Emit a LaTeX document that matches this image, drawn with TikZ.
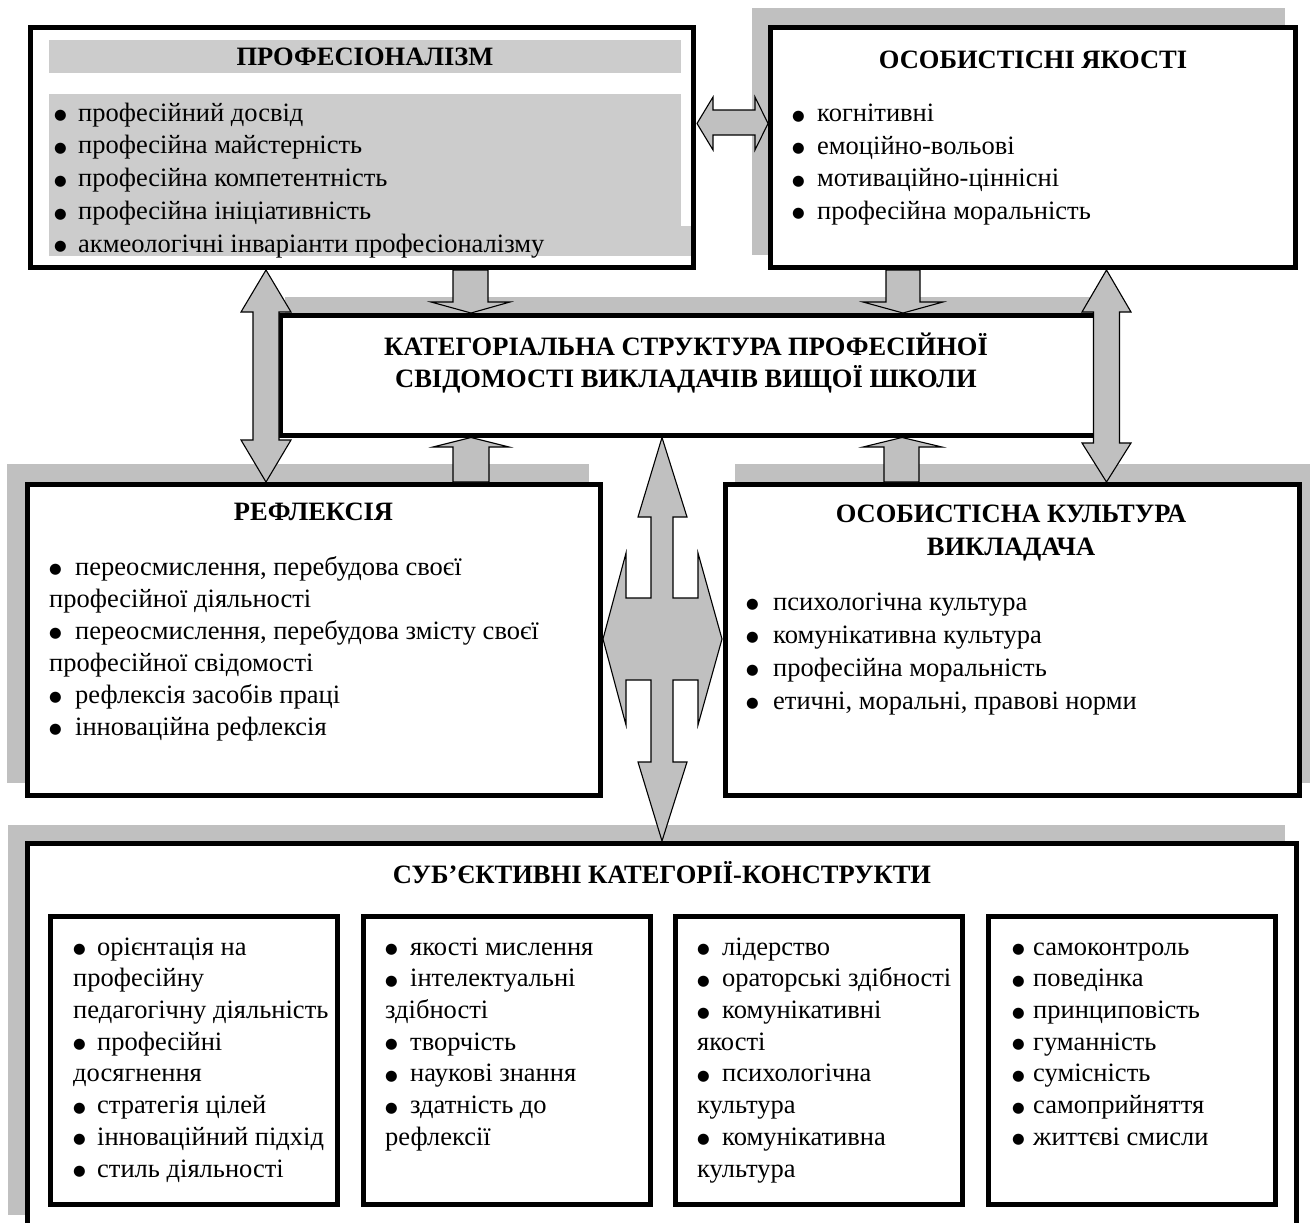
\documentclass[tikz,border=0pt]{standalone}
\usepackage{fontspec}
\setmainfont{Liberation Serif}
\newfontfamily\bulfont{DejaVu Sans}
\definecolor{shadegray}{HTML}{C0C0C0}
\definecolor{innergray}{HTML}{CCCCCC}
\newcommand\bul[1][24pt]{\makebox[#1][l]{\raisebox{1.5pt}{\bulfont\fontsize{14.5}{14.5}\selectfont ●}}}
\begin{document}
\begin{tikzpicture}[x=1pt,y=-1pt,
  frame/.style={draw=black, line width=5pt, fill=white, inner sep=0pt},
  shade/.style={fill=shadegray},
  blk/.style={draw=black, line width=1.1pt, fill=shadegray, line join=miter},
  ttl/.style={font=\fontsize{26.5}{#1}\selectfont\bfseries, inner sep=0pt, align=center, anchor=north},
  lst/.style={font=\fontsize{26.5}{#1}\selectfont, inner sep=0pt, align=left, anchor=north west}]
\useasboundingbox (0,0) rectangle (1310,1223);
\fill[white] (0,0) rectangle (1310,1223);

% shadows
\fill[shade] (752,8) rectangle (1285,255);
\fill[shade] (285,297) rectangle (1112,420);
\fill[shade] (7,464) rectangle (589,783);
\fill[shade] (735,464) rectangle (1310,783);
\fill[shade] (8,825) rectangle (1285,1215);

% main boxes
\node[frame, minimum width=663pt, minimum height=240pt] (prof) at (362,147.5) {};
\node[frame, minimum width=525pt, minimum height=240pt] (osob) at (1033,147.5) {};
\node[frame, minimum width=815pt, minimum height=120.5pt] (cat) at (687.5,375.25) {};
\node[frame, minimum width=573pt, minimum height=311pt] (refl) at (314,640) {};
\node[frame, minimum width=574pt, minimum height=311pt] (cult) at (1012,640) {};
\fill[white] (27.5,843.5) rectangle (1296,1223);
\draw[line width=5pt] (27.5,1223) -- (27.5,843.5) -- (1296,843.5) -- (1296,1223);
\node[frame, minimum width=287pt, minimum height=288.5pt] (ba) at (194,1060.25) {};
\node[frame, minimum width=287pt, minimum height=288.5pt] (bb) at (506.5,1060.25) {};
\node[frame, minimum width=287pt, minimum height=288.5pt] (bc) at (819,1060.25) {};
\node[frame, minimum width=287pt, minimum height=288.5pt] (bd) at (1131.5,1060.25) {};

% gray areas inside the first box
\fill[innergray] (49,40) rectangle (681,73);
\fill[innergray] (49,94) rectangle (681,256);
\fill[innergray] (49,226) rectangle (691,256);

% titles
\node[ttl=32] (profT) at (365,42.6) {\strut ПРОФЕСІОНАЛІЗМ};
\node[ttl=32] (osobT) at (1033,45.6) {\strut ОСОБИСТІСНІ ЯКОСТІ};
\node[ttl=32] (catT) at (686,332.6) {\strut КАТЕГОРІАЛЬНА СТРУКТУРА ПРОФЕСІЙНОЇ\\СВІДОМОСТІ ВИКЛАДАЧІВ ВИЩОЇ ШКОЛИ};
\node[ttl=32] (reflT) at (313.5,497.6) {\strut РЕФЛЕКСІЯ};
\node[ttl=33] (cultT) at (1011,498.9) {\strut ОСОБИСТІСНА КУЛЬТУРА\\ВИКЛАДАЧА};
\node[ttl=32] (subjT) at (662,860.6) {\strut СУБ’ЄКТИВНІ КАТЕГОРІЇ-КОНСТРУКТИ};

% lists
\node[lst=32.8] (profL) at (54,98) {\strut\bul професійний досвід\\
\bul професійна майстерність\\
\bul професійна компетентність\\
\bul професійна ініціативність\\
\bul акмеологічні інваріанти професіоналізму};
\node[lst=32.5] (osobL) at (792,99) {\strut\bul[25pt]когнітивні\\
\bul[25pt]емоційно-вольові\\
\bul[25pt]мотиваційно-ціннісні\\
\bul[25pt]професійна моральність};
\node[lst=32] (reflL) at (49,552.6) {\strut\bul[26pt]переосмислення, перебудова своєї\\
професійної діяльності\\
\bul[26pt]переосмислення, перебудова змісту своєї\\
професійної свідомості\\
\bul[26pt]рефлексія засобів праці\\
\bul[26pt]інноваційна рефлексія};
\node[lst=33] (cultL) at (746,587) {\strut\bul[27pt]психологічна культура\\
\bul[27pt]комунікативна культура\\
\bul[27pt]професійна моральність\\
\bul[27pt]етичні, моральні, правові норми};
\node[lst=31.7] (baL) at (73,932.8) {\strut\bul орієнтація на\\
професійну\\
педагогічну діяльність\\
\bul професійні\\
досягнення\\
\bul стратегія цілей\\
\bul інноваційний підхід\\
\bul стиль діяльності};
\node[lst=31.7] (bbL) at (385,932.8) {\strut\bul[25pt]якості мислення\\
\bul[25pt]інтелектуальні\\
здібності\\
\bul[25pt]творчість\\
\bul[25pt]наукові знання\\
\bul[25pt]здатність до\\
рефлексії};
\node[lst=31.7] (bcL) at (697,932.8) {\strut\bul[25pt]лідерство\\
\bul[25pt]ораторські здібності\\
\bul[25pt]комунікативні\\
якості\\
\bul[25pt]психологічна\\
культура\\
\bul[25pt]комунікативна\\
культура};
\node[lst=31.7] (bdL) at (1012,932.8) {\strut\bul[21pt]самоконтроль\\
\bul[21pt]поведінка\\
\bul[21pt]принциповість\\
\bul[21pt]гуманність\\
\bul[21pt]сумісність\\
\bul[21pt]самоприйняття\\
\bul[21pt]життєві смисли};

% block arrows
\draw[blk] (453,270) -- (453,302) -- (431,302) -- (471,313) -- (510,302) -- (488,302) -- (488,270) -- cycle;
\draw[blk] (886,270) -- (886,302) -- (863,302) -- (903,313) -- (943,302) -- (920,302) -- (920,270) -- cycle;
\draw[blk] (453,482) -- (453,447) -- (433,447) -- (471,437.5) -- (509,447) -- (489,447) -- (489,482) -- cycle;
\draw[blk] (884,482) -- (884,447) -- (863,447) -- (902,437.5) -- (942,447) -- (919,447) -- (919,482) -- cycle;
\draw[blk] (266,270) -- (291,312) -- (279,312) -- (279,440) -- (291,440) -- (266,482) -- (241,440) -- (253,440) -- (253,312) -- (241,312) -- cycle;
\draw[blk] (1106.5,270) -- (1131,312) -- (1119.5,312) -- (1119.5,443) -- (1131,443) -- (1106.5,482) -- (1082,443) -- (1093.5,443) -- (1093.5,312) -- (1082,312) -- cycle;
\draw[blk] (697,123.5) -- (713,97) -- (713,110) -- (755,110) -- (755,97) -- (768,123.5) -- (755,150) -- (755,135) -- (713,135) -- (713,150) -- cycle;
\draw[blk] (662,437.5) -- (687,517) -- (673,517) -- (673,598) -- (698,598) -- (698,553) -- (722,639) -- (698,725) -- (698,680) -- (673,680) -- (673,762) -- (687,762) -- (662,841) -- (638,762) -- (651,762) -- (651,680) -- (626,680) -- (626,725) -- (603,639) -- (626,553) -- (626,598) -- (651,598) -- (651,517) -- (638,517) -- cycle;
\end{tikzpicture}
\end{document}
